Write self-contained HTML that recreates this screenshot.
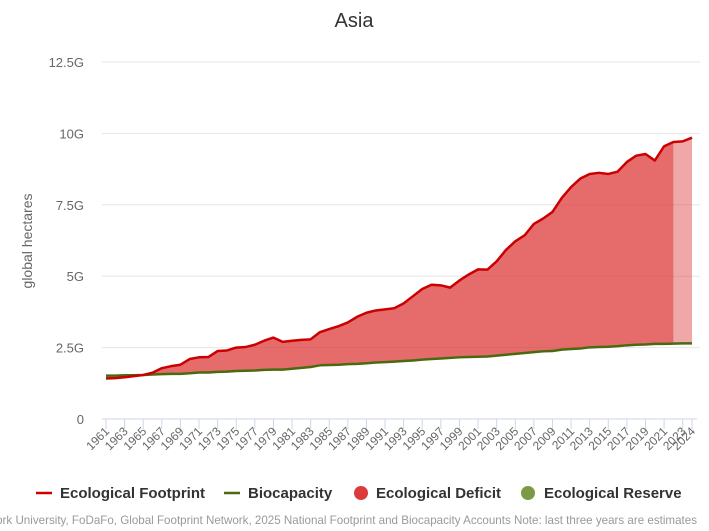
<!DOCTYPE html>
<html><head><meta charset="utf-8"><style>
body{margin:0;background:#fff;}
svg{display:block;font-family:"Liberation Sans",sans-serif;}
</style></head><body>
<svg id="chart" width="709" height="531" xmlns="http://www.w3.org/2000/svg">
<text x="354" y="27" text-anchor="middle" font-size="20" fill="#333">Asia</text>
<text transform="translate(32,241) rotate(-90)" text-anchor="middle" font-size="14" fill="#666">global hectares</text>
<g id="grid"></g><g id="areas"></g><g id="lines"></g><g id="xaxis"></g>
<g font-size="15" font-weight="bold" fill="#333">
 <g><line x1="36" y1="493" x2="52" y2="493" stroke="#c00" stroke-width="2.5"/><text x="60" y="498">Ecological Footprint</text></g>
 <g><line x1="224" y1="493" x2="240" y2="493" stroke="#4a6a10" stroke-width="2.5"/><text x="248" y="498">Biocapacity</text></g>
 <g><circle cx="361" cy="493" r="7" fill="#dd3b3b"/><text x="376" y="498">Ecological Deficit</text></g>
 <g><circle cx="528" cy="493" r="7" fill="#7a9a45"/><text x="544" y="498">Ecological Reserve</text></g>
</g>
<text x="697" y="524" text-anchor="end" font-size="11.6" fill="#999">Data Sources: York University, FoDaFo, Global Footprint Network, 2025 National Footprint and Biocapacity Accounts Note: last three years are estimates</text>
</svg>
<script>
const years=[];for(let y=1961;y<=2024;y++)years.push(y);
const footprint=[1.42,1.43,1.46,1.5,1.54,1.62,1.78,1.85,1.9,2.1,2.16,2.17,2.38,2.4,2.5,2.52,2.6,2.74,2.85,2.7,2.74,2.77,2.79,3.04,3.15,3.25,3.38,3.58,3.72,3.8,3.84,3.88,4.05,4.3,4.55,4.7,4.68,4.6,4.85,5.06,5.24,5.23,5.52,5.92,6.22,6.43,6.83,7.02,7.25,7.74,8.12,8.42,8.58,8.62,8.58,8.66,9.0,9.22,9.28,9.05,9.55,9.7,9.72,9.85];
const biocapacity=[1.52,1.52,1.53,1.53,1.54,1.56,1.57,1.58,1.58,1.6,1.63,1.63,1.65,1.66,1.68,1.69,1.7,1.72,1.73,1.73,1.76,1.79,1.82,1.88,1.89,1.9,1.92,1.93,1.95,1.98,1.99,2.01,2.03,2.05,2.08,2.1,2.12,2.14,2.16,2.17,2.18,2.19,2.22,2.25,2.28,2.31,2.34,2.37,2.38,2.43,2.45,2.47,2.51,2.52,2.53,2.55,2.58,2.6,2.61,2.63,2.63,2.64,2.65,2.65];
const yTicks=[0,2.5,5,7.5,10,12.5];
const yTickLabels=["0","2.5G","5G","7.5G","10G","12.5G"];
const estimateStart=2022;
const NS="http://www.w3.org/2000/svg";
const X=y=>106+(y-1961)*(692-106)/63;
const Y=v=>419-v*(419-62)/12.5;
function mk(tag,attrs,parent){const e=document.createElementNS(NS,tag);for(const k in attrs)e.setAttribute(k,attrs[k]);parent.appendChild(e);return e;}
const grid=document.getElementById('grid'),areas=document.getElementById('areas'),lines=document.getElementById('lines'),xa=document.getElementById('xaxis');
yTicks.forEach((t,i)=>{
 if(i>0){const l=mk('line',{x1:102,x2:700,y1:Y(t),y2:Y(t),stroke:'#e6e6e6','stroke-width':1},grid);
 
 }
 const tx=mk('text',{x:84,y:Y(t)+5,'text-anchor':'end','font-size':13,fill:'#666'},grid);tx.textContent=yTickLabels[i];
 
 
});
function band(i0,i1,topArr,botArr){
 let d='';
 for(let i=i0;i<=i1;i++)d+=(i===i0?'M':'L')+X(years[i])+','+Y(topArr[i]);
 for(let i=i1;i>=i0;i--)d+='L'+X(years[i])+','+Y(botArr[i]);
 return d+'Z';
}
const hi=footprint.map((f,i)=>Math.max(f,biocapacity[i]));
const lo=footprint.map((f,i)=>Math.min(f,biocapacity[i]));
const ei=years.indexOf(estimateStart);
const a1=mk('path',{d:band(0,ei,hi,biocapacity),fill:'#dd3b3b','fill-opacity':0.75},areas);


const a2=mk('path',{d:band(ei,years.length-1,hi,biocapacity),fill:'#dd3b3b','fill-opacity':0.45},areas);


const a3=mk('path',{d:band(0,years.length-1,biocapacity,lo),fill:'#7a9a45','fill-opacity':0.75},areas);


function line(arr,color,name){
 const d=arr.map((v,i)=>(i?'L':'M')+X(years[i])+','+Y(v)).join('');
 const p=mk('path',{d:d,fill:'none',stroke:color,'stroke-width':2.5,'stroke-linejoin':'round'},lines);
 
 
}
line(biocapacity,'#4a6a10','biocapacity-line');
line(footprint,'#c00','footprint-line');
const ax=mk('line',{x1:102,x2:697,y1:419,y2:419,stroke:'#ccd6eb'},xa);


years.forEach((y,i)=>{
 if(i%2===0||y===2024){
  const t=mk('line',{x1:X(y),x2:X(y),y1:419,y2:429,stroke:'#ccd6eb'},xa);
  
  
  const tx=mk('text',{transform:`translate(${X(y)+4},${432}) rotate(-45)`,'text-anchor':'end','font-size':12,fill:'#666'},xa);
  tx.textContent=y;
  
  
 }
});
</script>
</body></html>
